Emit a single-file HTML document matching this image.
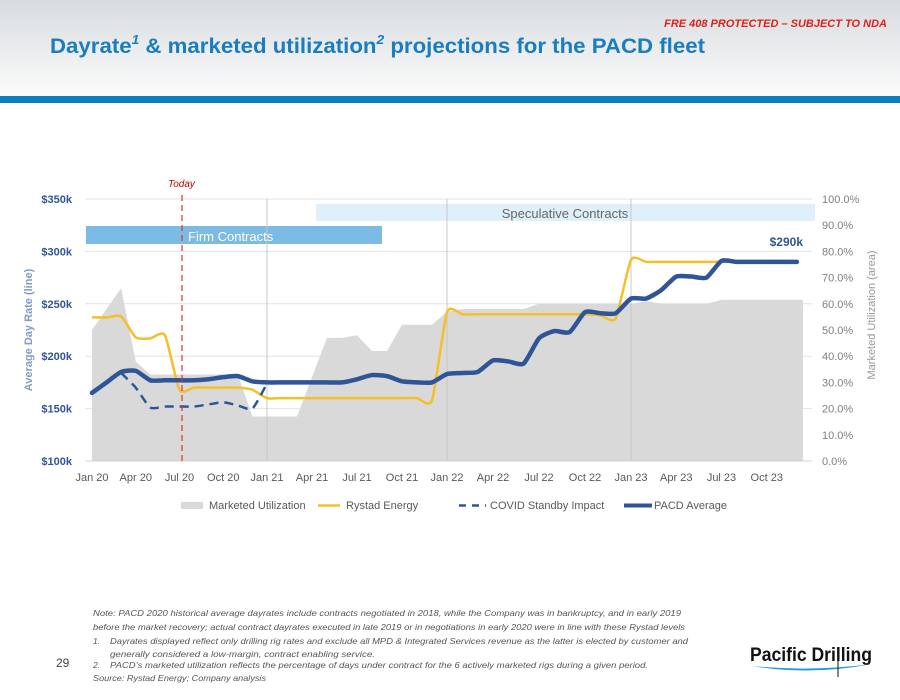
<!DOCTYPE html>
<html><head><meta charset="utf-8"><style>
body{margin:0;width:900px;height:695px;overflow:hidden;background:#fff;font-family:"Liberation Sans",sans-serif}
</style></head><body>
<svg id="s" width="900" height="695" viewBox="0 0 900 695" xmlns="http://www.w3.org/2000/svg">
<defs><linearGradient id="hg" x1="0" y1="0" x2="0" y2="1"><stop offset="0" stop-color="#d8dcdf"/><stop offset="1" stop-color="#fbfbfb"/></linearGradient></defs>
<rect x="0" y="0" width="900" height="96" fill="url(#hg)"/>
<rect x="0" y="96" width="900" height="7" fill="#0a7fbd"/>
<text x="887" y="27" text-anchor="end" font-size="11" font-weight="bold" font-style="italic" fill="#e0201b">FRE 408 PROTECTED – SUBJECT TO NDA</text>
<text x="50" y="53" font-size="21" font-weight="bold" fill="#1a7dbf" textLength="655" lengthAdjust="spacingAndGlyphs">Dayrate<tspan font-size="13" dy="-9" font-style="italic">1</tspan><tspan dy="9"> &amp; marketed utilization</tspan><tspan font-size="13" dy="-9" font-style="italic">2</tspan><tspan dy="9"> projections for the PACD fleet</tspan></text>
<g id="chart"></g>
<g font-size="8.5" font-style="italic" fill="#555">
<text x="93" y="616" textLength="588" lengthAdjust="spacingAndGlyphs">Note: PACD 2020 historical average dayrates include contracts negotiated in 2018, while the Company was in bankruptcy, and in early 2019</text>
<text x="93" y="630" textLength="592" lengthAdjust="spacingAndGlyphs">before the market recovery; actual contract dayrates executed in late 2019 or in negotiations in early 2020 were in line with these Rystad levels</text>
<text x="93" y="644">1.</text>
<text x="110" y="644" textLength="578" lengthAdjust="spacingAndGlyphs">Dayrates displayed reflect only drilling rig rates and exclude all MPD &amp; Integrated Services revenue as the latter is elected by customer and</text>
<text x="110" y="657" textLength="265" lengthAdjust="spacingAndGlyphs">generally considered a low-margin, contract enabling service.</text>
<text x="93" y="668">2.</text>
<text x="110" y="668" textLength="538" lengthAdjust="spacingAndGlyphs">PACD’s marketed utilization reflects the percentage of days under contract for the 6 actively marketed rigs during a given period.</text>
<text x="93" y="681" textLength="173" lengthAdjust="spacingAndGlyphs">Source: Rystad Energy; Company analysis</text>
</g>
<text x="56" y="667" font-size="12" fill="#444">29</text>
<g>
<text x="750" y="661" font-size="19" font-weight="bold" fill="#111" textLength="122" lengthAdjust="spacingAndGlyphs">Pacific Drilling</text>
<path d="M752 666 Q810 676 872 664 Q812 672 752 666Z" fill="#1e9bd7"/>
<line x1="838" y1="650" x2="838" y2="677" stroke="#111" stroke-width="1"/>
</g>
</svg>
<script>
const months = ["Jan 20","Apr 20","Jul 20","Oct 20","Jan 21","Apr 21","Jul 21","Oct 21","Jan 22","Apr 22","Jul 22","Oct 22","Jan 23","Apr 23","Jul 23","Oct 23"];
const leftTicks = ["$100k","$150k","$200k","$250k","$300k","$350k"];
const leftTickValues = [100,150,200,250,300,350];
const rightTicks = ["0.0%","10.0%","20.0%","30.0%","40.0%","50.0%","60.0%","70.0%","80.0%","90.0%","100.0%"];
const rightTickValues = [0,10,20,30,40,50,60,70,80,90,100];
// monthly Jan 20 .. Dec 23
const utilization = [50,58,66,38,33,33,33,33,33,33,33,17, 17,17,17,32,47,47,48,42,42,52,52,52, 57,58,58,58,58,58,60,60,60,60,60,60, 60,61,60,60,60,60,61.5,61.5,61.5,61.5,61.5,61.5];
const rystad = [237,237,238,218,217,220,168,170,170,170,170,168, 160,160,160,160,160,160,160,160,160,160,160,158, 242,240,240,240,240,240,240,240,240,240,239,236, 292,290,290,290,290,290,290,290,290,290,290,290];
const pacd = [165,175,185,186,177,177,177,177,178,180,181,176, 175,175,175,175,175,175,178,182,181,176,175,175, 183,184,185,196,195,193,217,224,223,242,241,241, 255,255,263,276,276,275,291,290,290,290,290,290];
const covid = [null,null,184,170,151,152,152,152,154,156,153,150, 174,null,null,null,null,null,null,null,null,null,null,null, null,null,null,null,null,null,null,null,null,null,null,null, null,null,null,null,null,null,null,null,null,null,null,null];

const NS="http://www.w3.org/2000/svg";
const g=document.getElementById('chart');
const yearX=[92,267,447,631,812];
function xm(m){const yi=Math.floor(m/12);const f=(m-yi*12)/12;return yearX[yi]+(yearX[yi+1]-yearX[yi])*f;}
const Y0=461,Y1=199;
function yl(v){return Y0-(v-100)/250*(Y0-Y1);}
function yr(p){return Y0-p/100*(Y0-Y1);}
function el(t,a,p){const e=document.createElementNS(NS,t);for(const k in a)e.setAttribute(k,a[k]);(p||g).appendChild(e);return e;}
function smooth(pts){let d="M"+pts[0][0]+" "+pts[0][1];for(let i=0;i<pts.length-1;i++){const p0=pts[i-1]||pts[i],p1=pts[i],p2=pts[i+1],p3=pts[i+2]||p2;const t=0.1;const c1=[p1[0]+(p2[0]-p0[0])*t,p1[1]+(p2[1]-p0[1])*t];const c2=[p2[0]-(p3[0]-p1[0])*t,p2[1]-(p3[1]-p1[1])*t];d+=" C"+c1[0]+" "+c1[1]+" "+c2[0]+" "+c2[1]+" "+p2[0]+" "+p2[1];}return d;}

leftTickValues.forEach((v,i)=>{const l=el('line',{x1:85,x2:812,y1:yl(v),y2:yl(v),stroke:'#e2e2e2','stroke-width':1});

});
const sp=el('rect',{x:316,y:204,width:499,height:17,fill:'#dff0fb'});


const spt=el('text',{x:565,y:218,'font-size':13,fill:'#666','text-anchor':'middle'});spt.textContent='Speculative Contracts';


const fc=el('rect',{x:86,y:226,width:296,height:18,fill:'#7cbbe3'});


const fct=el('text',{x:188,y:241,'font-size':13,fill:'#fff'});fct.textContent='Firm Contracts';


let ad="M"+xm(0)+" "+Y0;utilization.forEach((v,i)=>{ad+=" L"+xm(i)+" "+yr(v);});ad+=" L"+(xm(utilization.length-1)+6)+" "+yr(utilization[utilization.length-1])+" L"+(xm(utilization.length-1)+6)+" "+Y0+"Z";
const ar=el('path',{d:ad,fill:'#d9d9d9'});


[12,24,36].forEach(m=>{const l=el('line',{x1:xm(m),x2:xm(m),y1:Y1,y2:Y0,stroke:'#c8c8c8','stroke-width':1});

});
el('line',{x1:85,x2:812,y1:Y0,y2:Y0,stroke:'#d0d0d0'});
const rp=el('path',{d:smooth(rystad.map((v,i)=>[xm(i),yl(v)])),fill:'none',stroke:'#f5bf2a','stroke-width':2.5});


let segs=[],cur=[];covid.forEach((v,i)=>{if(v==null){if(cur.length)segs.push(cur);cur=[];}else cur.push([xm(i),yl(v)]);});if(cur.length)segs.push(cur);
segs.forEach(s=>{const c=el('path',{d:smooth(s),fill:'none',stroke:'#2b5797','stroke-width':2.5,'stroke-dasharray':'9 6'});

});
const pp=el('path',{d:smooth(pacd.map((v,i)=>[xm(i),yl(v)])),fill:'none',stroke:'#2f5597','stroke-width':4.5,'stroke-linecap':'round'});


const lab=el('text',{x:803,y:246,'font-size':12,'font-weight':'bold',fill:'#2f5597','text-anchor':'end'});lab.textContent='$290k';


const td=el('line',{x1:182,x2:182,y1:Y1-4,y2:Y0,stroke:'#d33','stroke-width':1.2,'stroke-dasharray':'6 4'});


const tt=el('text',{x:168,y:187,'font-size':10,'font-style':'italic',fill:'#c00000'});tt.textContent='Today';


leftTickValues.forEach((v,i)=>{const t=el('text',{x:72,y:yl(v)+4,'font-size':11,'font-weight':'bold',fill:'#2f5597','text-anchor':'end'});t.textContent=leftTicks[i];

});
rightTickValues.forEach((v,i)=>{const t=el('text',{x:822,y:yr(v)+4,'font-size':11,fill:'#7f7f7f'});t.textContent=rightTicks[i];

});
months.forEach((m,i)=>{const t=el('text',{x:xm(i*3),y:481,'font-size':11,fill:'#595959','text-anchor':'middle'});t.textContent=m;

});
const ylt=el('text',{x:0,y:0,'font-size':11,'font-weight':'bold',fill:'#7f9ccb','text-anchor':'middle',transform:'translate(32,330) rotate(-90)'});ylt.textContent='Average Day Rate (line)';


const yrt=el('text',{x:0,y:0,'font-size':11,fill:'#999','text-anchor':'middle',transform:'translate(875,315) rotate(-90)'});yrt.textContent='Marketed Utilization (area)';


const lg=el('g',{});


el('rect',{x:181,y:502,width:22,height:7,fill:'#d9d9d9'},lg);
el('line',{x1:318,x2:340,y1:505.5,y2:505.5,stroke:'#f5bf2a','stroke-width':2.5},lg);
el('line',{x1:459,x2:486,y1:505.5,y2:505.5,stroke:'#2b5797','stroke-width':2.5,'stroke-dasharray':'7 6'},lg);
el('line',{x1:624,x2:652,y1:505.5,y2:505.5,stroke:'#2f5597','stroke-width':4},lg);
[["Marketed Utilization",209],["Rystad Energy",346],["COVID Standby Impact",490],["PACD Average",654]].forEach(a=>{const t=el('text',{x:a[1],y:509,'font-size':11,fill:'#595959'},lg);t.textContent=a[0];

});
</script>
</body></html>
